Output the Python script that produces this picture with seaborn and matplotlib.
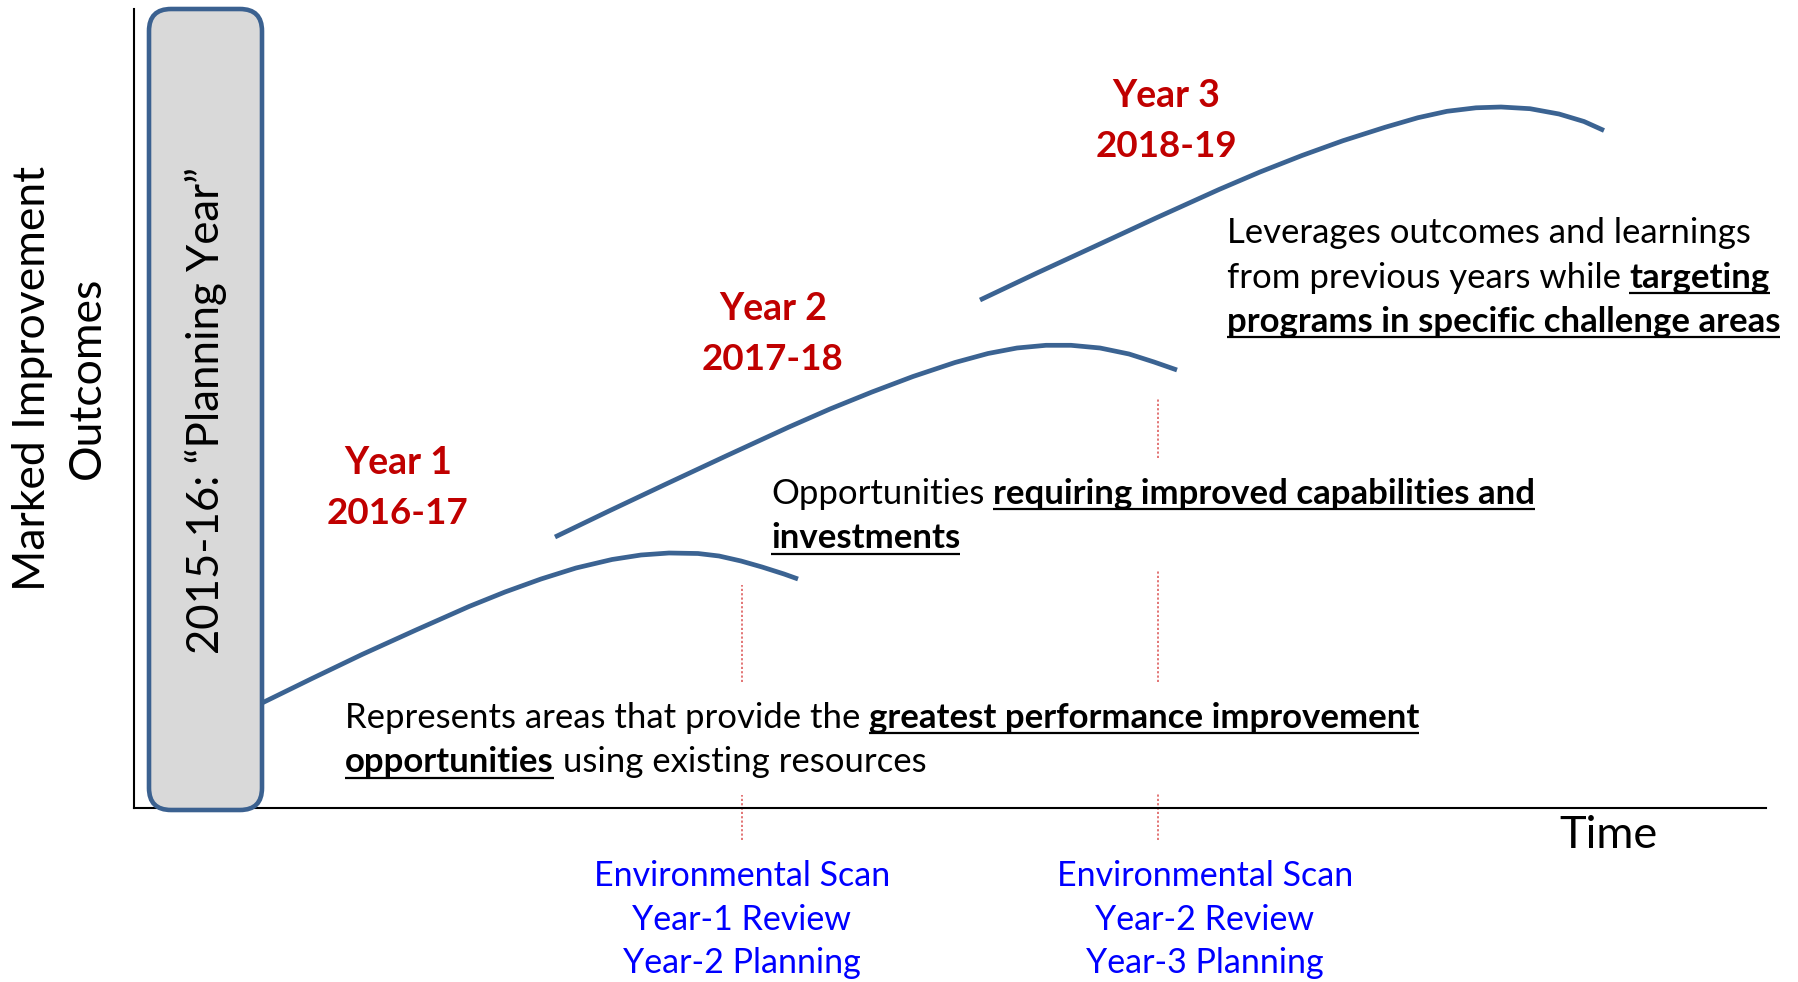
import numpy as np
import pandas as pd
import matplotlib
matplotlib.use("Agg")
import matplotlib.pyplot as plt
import seaborn as sns
from matplotlib.patches import FancyBboxPatch

# ---------------- data (time / outcome units) ----------------
year1_time = [128, 178, 228, 282, 335, 371, 407, 442, 478, 507, 535, 564, 585, 607, 628, 650, 664]
year1_outcome = [105, 129.5, 153.5, 178, 201.5, 216, 229, 240, 248.5, 253, 255, 254.5, 252, 247, 241, 234, 229]
year2_time = [421, 475, 530, 592, 655, 696, 738, 779, 821, 854, 883, 912, 937, 966, 995, 1020, 1043]
year2_outcome = [271, 297, 323, 352, 381, 399, 416, 431.5, 445.5, 454.5, 460, 462.7, 462.7, 460, 454, 446, 438]
year3_time = [846, 903, 960, 1022, 1085, 1126, 1168, 1209, 1251, 1284, 1313, 1342, 1367, 1396, 1425, 1450, 1470]
year3_outcome = [508, 535, 561.3, 590, 618.5, 636, 652.5, 667.3, 680.7, 690.3, 696.7, 700.2, 701, 699.3, 694, 686.5, 677.5]

year_titles = ["Year 1", "Year 2", "Year 3"]
year_periods = ["2016-17", "2017-18", "2018-19"]
scan_times = [608, 1024]
scan_labels = [["Environmental Scan", "Year-1 Review", "Year-2 Planning"],
               ["Environmental Scan", "Year-2 Review", "Year-3 Planning"]]
planning_label = "2015-16: \u201cPlanning Year\u201d"
y_label = "Marked Improvement\nOutcomes"
x_label = "Time"
desc1 = [[("Represents areas that provide the", False), ("greatest performance improvement", True)],
         [("opportunities", True), ("using existing resources", False)]]
desc2 = [[("Opportunities", False), ("requiring improved capabilities and", True)],
         [("investments", True)]]
desc3 = [[("Leverages outcomes and learnings", False)],
         [("from previous years while", False), ("targeting", True)],
         [("programs in specific challenge areas", True)]]

# ---------------- style ----------------
sns.set_theme(style="white")
plt.rcParams["font.family"] = ["Lato", "DejaVu Sans"]

CURVE = "#3b6392"
RED = "#c00000"
BLUE = "#0000ff"
DOT = "#e06a6a"

W, H = 1798, 982
AX_L, AX_R, AX_T, AX_B = 134, 1766, 9, 808
fig = plt.figure(figsize=(W / 100, H / 100), dpi=100)
fig.patch.set_facecolor("white")
ax = fig.add_axes([AX_L / W, (H - AX_B) / H, (AX_R - AX_L) / W, (AX_B - AX_T) / H])
ax.set_xlim(0, AX_R - AX_L)
ax.set_ylim(0, AX_B - AX_T)
ax.set_xticks([])
ax.set_yticks([])
for s in ["top", "right"]:
    ax.spines[s].set_visible(False)
for s in ["left", "bottom"]:
    ax.spines[s].set_color("black")
    ax.spines[s].set_linewidth(1.5)


def P(x, y):
    return x - AX_L, AX_B - y


# planning year box
bx, by = P(149, 810)
box = FancyBboxPatch((bx, by), 113, 801, boxstyle="round,pad=0,rounding_size=22",
                     facecolor="#d9d9d9", edgecolor="#3b6190", linewidth=3.3,
                     clip_on=False, zorder=3)
ax.add_patch(box)
tx, ty = P(206, 410)
ax.text(tx, ty, planning_label, rotation=90, ha="center", va="center",
        fontsize=31.5, color="black", zorder=4)

# curves
df = pd.concat([
    pd.DataFrame({"time": year1_time, "outcome": year1_outcome, "year": year_titles[0]}),
    pd.DataFrame({"time": year2_time, "outcome": year2_outcome, "year": year_titles[1]}),
    pd.DataFrame({"time": year3_time, "outcome": year3_outcome, "year": year_titles[2]}),
])
sns.lineplot(data=df, x="time", y="outcome", hue="year", estimator=None, sort=False,
             palette={y: CURVE for y in year_titles}, linewidth=3.4, legend=False,
             ax=ax, zorder=5)
for ln in ax.lines:
    ln.set_solid_capstyle("butt")
    ln.set_solid_joinstyle("round")
    ln.set_clip_on(False)
ax.set_xlabel("")
ax.set_ylabel("")

# dotted markers
seg_x = [scan_times[0], scan_times[0], scan_times[1], scan_times[1], scan_times[1]]
seg_lo = [126, -32, 350, 126, -32]
seg_hi = [223, 13, 410, 238, 15]
ax.vlines(seg_x, seg_lo, seg_hi, colors=DOT, linewidth=1.3,
          linestyles=[(0, (1.2, 1.2))], clip_on=False)

# year labels
year_pos = [(398, 474), (773, 320), (1166, 107)]
for (cx, cy), t1, t2 in zip(year_pos, year_titles, year_periods):
    x, y = P(cx, cy)
    ax.text(x, y, t1, ha="center", va="baseline", fontsize=27, fontweight="bold", color=RED)
    ax.text(x, y - 50, t2, ha="center", va="baseline", fontsize=26.5, fontweight="bold", color=RED)

# scan labels
scan_cx = [742, 1205]
for cx, labels in zip(scan_cx, scan_labels):
    x, y = P(cx, 886)
    for i, lab in enumerate(labels):
        ax.text(x, y - i * 43.5, lab, ha="center", va="baseline", fontsize=24.5,
                color=BLUE, clip_on=False)

# axis labels
x, y = P(1609, 848)
ax.text(x, y, x_label, ha="center", va="baseline", fontsize=32.5, color="black", clip_on=False)
x, y = P(60, 378)
ax.text(x, y, y_label, ha="center", va="center", rotation=90, multialignment="center",
        fontsize=32, linespacing=1.4, color="black", clip_on=False)

# rich descriptions
renderer = fig.canvas.get_renderer()


def text_w(s, size, weight):
    t = ax.text(0, 0, s, fontsize=size, fontweight=weight)
    w = t.get_window_extent(renderer).width
    t.remove()
    return w


def rich(x0, y0, lines, size, spacing):
    for i, segs in enumerate(lines):
        x = x0
        y = y0 - i * spacing
        for j, (s, b) in enumerate(segs):
            wgt = "bold" if b else "normal"
            if j > 0:
                x += text_w("a a", size, wgt) - text_w("aa", size, wgt)
            t = ax.text(x, y, s, fontsize=size, fontweight=wgt, va="baseline", ha="left",
                        color="black", clip_on=False)
            w = t.get_window_extent(renderer).width
            if b:
                ax.plot([x, x + w], [y - 5, y - 5], color="black", lw=1.6,
                        solid_capstyle="butt", clip_on=False)
            x += w


rich(*P(345, 728), desc1, 25, 44.5)
rich(*P(771, 504), desc2, 25, 44.5)
rich(*P(1227, 243), desc3, 25, 44.5)

fig.savefig("out.png", dpi=100, facecolor="white")
